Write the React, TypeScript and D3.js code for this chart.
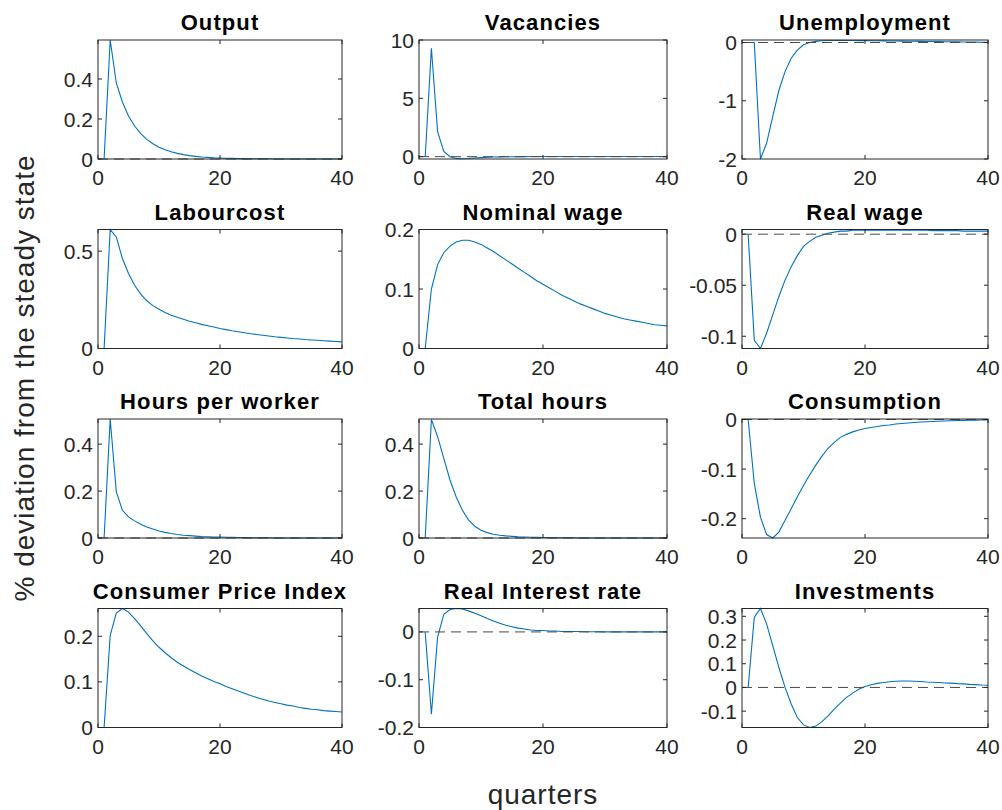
import React, { useRef, useEffect } from "react";
import * as d3 from "d3";

// impulse responses, quarters 1..40
const titles = [
  "Output", "Vacancies", "Unemployment",
  "Labourcost", "Nominal wage", "Real wage",
  "Hours per worker", "Total hours", "Consumption",
  "Consumer Price Index", "Real Interest rate", "Investments",
];

const output = [0, 0.595, 0.38, 0.285, 0.215, 0.165, 0.127, 0.098, 0.076, 0.059, 0.046, 0.036, 0.028, 0.022, 0.017, 0.013, 0.01, 0.008, 0.006, 0.005, 0.004, 0.003, 0.002, 0.002, 0.001, 0.001, 0.001, 0.001, 0, 0, 0, 0, 0, 0, 0, 0, 0, 0, 0, 0];
const vacancies = [0, 9.3, 2.15, 0.45, 0.0, -0.15, -0.18, -0.16, -0.12, -0.08, -0.05, -0.03, -0.02, -0.01, -0.005, 0, 0.005, 0.01, 0.01, 0.01, 0.01, 0.01, 0.01, 0.01, 0.01, 0.01, 0.01, 0.01, 0.01, 0.01, 0.01, 0.01, 0.01, 0.01, 0.01, 0.01, 0.01, 0.01, 0.01, 0.01];
const unemployment = [0, 0, -2.0, -1.73, -1.27, -0.82, -0.5, -0.27, -0.13, -0.04, 0.0, 0.02, 0.03, 0.035, 0.035, 0.035, 0.035, 0.034, 0.033, 0.032, 0.031, 0.03, 0.028, 0.027, 0.025, 0.024, 0.022, 0.021, 0.019, 0.018, 0.016, 0.015, 0.013, 0.012, 0.01, 0.009, 0.008, 0.006, 0.005, 0.004];
const labourcost = [0, 0.61, 0.573, 0.462, 0.385, 0.325, 0.279, 0.245, 0.22, 0.202, 0.185, 0.171, 0.16, 0.15, 0.14, 0.132, 0.124, 0.117, 0.11, 0.103, 0.097, 0.091, 0.086, 0.081, 0.076, 0.072, 0.068, 0.064, 0.06, 0.057, 0.054, 0.051, 0.049, 0.046, 0.044, 0.042, 0.04, 0.038, 0.036, 0.034];
const nominalWage = [0, 0.1, 0.141, 0.161, 0.172, 0.179, 0.182, 0.182, 0.179, 0.175, 0.169, 0.163, 0.156, 0.149, 0.142, 0.135, 0.128, 0.121, 0.114, 0.108, 0.102, 0.096, 0.09, 0.085, 0.08, 0.075, 0.071, 0.067, 0.063, 0.059, 0.056, 0.053, 0.05, 0.048, 0.046, 0.044, 0.042, 0.04, 0.039, 0.038];
const realWage = [0, -0.104, -0.112, -0.097, -0.079, -0.061, -0.045, -0.032, -0.021, -0.012, -0.007, -0.003, -0.001, 0.001, 0.002, 0.003, 0.003, 0.004, 0.004, 0.004, 0.004, 0.004, 0.004, 0.004, 0.004, 0.004, 0.004, 0.004, 0.004, 0.004, 0.0035, 0.0035, 0.0035, 0.0035, 0.0035, 0.003, 0.003, 0.003, 0.003, 0.003];
const hoursPerWorker = [0, 0.507, 0.197, 0.118, 0.09, 0.073, 0.059, 0.047, 0.038, 0.03, 0.024, 0.019, 0.015, 0.012, 0.01, 0.008, 0.006, 0.005, 0.004, 0.004, 0.003, 0.003, 0.002, 0.002, 0.001, 0.001, 0.001, 0.001, 0, 0, 0, 0, 0, 0, 0, 0, 0, 0, 0, 0];
const totalHours = [0, 0.505, 0.432, 0.339, 0.247, 0.175, 0.118, 0.076, 0.05, 0.033, 0.023, 0.016, 0.012, 0.009, 0.007, 0.005, 0.004, 0.003, 0.003, 0.002, 0.002, 0.001, 0.001, 0.001, 0.001, 0, 0, 0, 0, 0, 0, 0, 0, 0, 0, 0, 0, 0, 0, 0];
const consumption = [0, -0.129, -0.197, -0.232, -0.239, -0.227, -0.203, -0.18, -0.156, -0.133, -0.112, -0.092, -0.074, -0.058, -0.046, -0.036, -0.03, -0.025, -0.021, -0.018, -0.016, -0.014, -0.012, -0.011, -0.009, -0.008, -0.007, -0.006, -0.005, -0.0045, -0.004, -0.0035, -0.003, -0.0025, -0.002, -0.0018, -0.0015, -0.0012, -0.001, -0.0008];
const cpi = [0, 0.202, 0.251, 0.261, 0.253, 0.239, 0.223, 0.206, 0.19, 0.176, 0.164, 0.153, 0.143, 0.135, 0.127, 0.12, 0.113, 0.107, 0.101, 0.096, 0.09, 0.085, 0.08, 0.075, 0.07, 0.066, 0.062, 0.058, 0.055, 0.052, 0.049, 0.047, 0.044, 0.042, 0.04, 0.039, 0.037, 0.036, 0.035, 0.034];
const realInterest = [0, -0.172, -0.011, 0.037, 0.047, 0.049, 0.048, 0.044, 0.039, 0.034, 0.028, 0.023, 0.018, 0.014, 0.011, 0.008, 0.006, 0.004, 0.003, 0.003, 0.002, 0.002, 0.001, 0.001, 0.001, 0.001, 0.0005, 0.0005, 0.0005, 0, 0, 0, 0, 0, 0, 0, 0, 0, 0, 0];
const investments = [0, 0.296, 0.333, 0.268, 0.176, 0.084, 0.0, -0.07, -0.127, -0.158, -0.169, -0.163, -0.144, -0.12, -0.091, -0.066, -0.042, -0.024, -0.008, 0.004, 0.011, 0.017, 0.021, 0.024, 0.026, 0.027, 0.027, 0.026, 0.025, 0.023, 0.022, 0.021, 0.019, 0.018, 0.016, 0.015, 0.013, 0.012, 0.01, 0.009];

const series = [
  output, vacancies, unemployment,
  labourcost, nominalWage, realWage,
  hoursPerWorker, totalHours, consumption,
  cpi, realInterest, investments,
];

const yLimits = [
  [0, 0.595], [-0.2, 10], [-2.0, 0.043],
  [0, 0.611], [0, 0.2], [-0.112, 0.0046],
  [0, 0.507], [0, 0.507], [-0.239, 0.001],
  [0, 0.261], [-0.2, 0.049], [-0.169, 0.333],
];

const yTicks = [
  [0, 0.2, 0.4], [0, 5, 10], [-2, -1, 0],
  [0, 0.5], [0, 0.1, 0.2], [-0.1, -0.05, 0],
  [0, 0.2, 0.4], [0, 0.2, 0.4], [-0.2, -0.1, 0],
  [0, 0.1, 0.2], [-0.2, -0.1, 0], [-0.1, 0, 0.1, 0.2, 0.3],
];

const xDomain = [0, 40];
const xTicks = [0, 20, 40];

const colLeft = [98, 419, 742];
const colWidth = [244, 248, 246];
const rowTop = [40, 229.5, 419, 608.5];
const plotH = 119;
const font = "'Liberation Sans', Arial, Helvetica, sans-serif";
const axisColor = "#262626";

const App = () => {
  const svgRef = useRef<SVGSVGElement>(null);

  useEffect(() => {
    const svg = d3.select(svgRef.current);
    svg.selectAll("*").remove();

    series.forEach((data, k) => {
      const col = k % 3;
      const row = Math.floor(k / 3);
      const left = colLeft[col];
      const top = rowTop[row];

      const x = d3.scaleLinear().domain(xDomain).range([left, left + colWidth[col]]);
      const y = d3.scaleLinear().domain(yLimits[k]).range([top + plotH, top]);

      const g = svg.append("g");

      // response line
      const line = d3
        .line<number>()
        .x((d, i) => x(i + 1))
        .y((d) => y(d));

      g.append("path")
        .datum(data)
        .attr("d", line)
        .attr("fill", "none")
        .attr("stroke", "#0072BD")
        .attr("stroke-width", 1.1);

      // steady state line
      g.append("line")
        .attr("x1", x(xDomain[0]))
        .attr("x2", x(xDomain[1]))
        .attr("y1", y(0))
        .attr("y2", y(0))
        .attr("stroke", "#4a4a4a")
        .attr("stroke-width", 1)
        .attr("stroke-dasharray", "10,6");

      // box
      g.append("rect")
        .attr("x", x(xDomain[0]))
        .attr("y", top)
        .attr("width", colWidth[col])
        .attr("height", plotH)
        .attr("fill", "none")
        .attr("stroke", axisColor)
        .attr("stroke-width", 1);

      const tl = 4;
      // x ticks (bottom and top, pointing in)
      xTicks.forEach((t) => {
        g.append("line").attr("x1", x(t)).attr("x2", x(t))
          .attr("y1", top + plotH).attr("y2", top + plotH - tl)
          .attr("stroke", axisColor);
        g.append("line").attr("x1", x(t)).attr("x2", x(t))
          .attr("y1", top).attr("y2", top + tl)
          .attr("stroke", axisColor);
        g.append("text")
          .attr("x", x(t))
          .attr("y", top + plotH + 26)
          .attr("text-anchor", "middle")
          .attr("font-family", font)
          .attr("font-size", 21)
          .attr("fill", axisColor)
          .text(t);
      });

      // y ticks
      yTicks[k].forEach((t) => {
        g.append("line").attr("x1", x(xDomain[0])).attr("x2", x(xDomain[0]) + tl)
          .attr("y1", y(t)).attr("y2", y(t))
          .attr("stroke", axisColor);
        g.append("line").attr("x1", x(xDomain[1])).attr("x2", x(xDomain[1]) - tl)
          .attr("y1", y(t)).attr("y2", y(t))
          .attr("stroke", axisColor);
        g.append("text")
          .attr("x", x(xDomain[0]) - 5)
          .attr("y", y(t))
          .attr("dy", "0.36em")
          .attr("text-anchor", "end")
          .attr("font-family", font)
          .attr("font-size", 21)
          .attr("fill", axisColor)
          .text(String(t));
      });

      // title
      g.append("text")
        .attr("x", x(20))
        .attr("y", top - 10)
        .attr("text-anchor", "middle")
        .attr("font-family", font)
        .attr("font-weight", "bold")
        .attr("font-size", 22)
        .attr("letter-spacing", 1.1)
        .attr("fill", "#000")
        .text(titles[k]);
    });

    // shared labels
    svg.append("text")
      .attr("transform", "translate(34,378) rotate(-90)")
      .attr("text-anchor", "middle")
      .attr("font-family", font)
      .attr("font-size", 28)
      .attr("letter-spacing", 1)
      .attr("fill", axisColor)
      .text("% deviation from the steady state");

    svg.append("text")
      .attr("x", 543)
      .attr("y", 804)
      .attr("text-anchor", "middle")
      .attr("font-family", font)
      .attr("font-size", 28)
      .attr("letter-spacing", 1)
      .attr("fill", axisColor)
      .text("quarters");
  }, []);

  return (
    <svg
      ref={svgRef}
      width={1002}
      height={810}
      style={{ position: "absolute", left: 0, top: 0, background: "#fff" }}
    />
  );
};

export default App;
